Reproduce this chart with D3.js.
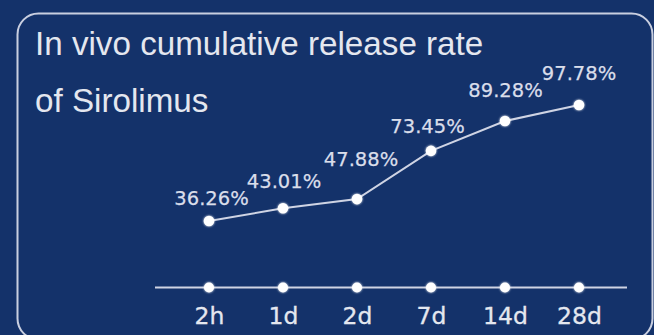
<!DOCTYPE html>
<html>
<head>
<meta charset="utf-8">
<script src="https://cdn.jsdelivr.net/npm/d3@7/dist/d3.min.js"></script>
<style>
  html, body { margin: 0; padding: 0; background: #14326a; }
  svg { display: block; }
</style>
</head>
<body>
<svg id="chart" width="654" height="335"></svg>
<script>
// Sampling time points and cumulative release (%) of Sirolimus
const timePoints = ["2h", "1d", "2d", "7d", "14d", "28d"];
const releaseRate = [36.26, 43.01, 47.88, 73.45, 89.28, 97.78];
const titleLines = ["In vivo cumulative release rate", "of Sirolimus"];

// Per-label nudges (px) so the value labels sit clear of the line
const labelNudgeX = [2.5, 1, 4, -3.5, 0.5, 0];
const labelNudgeY = [-16, -20, -33, -18, -24, -25];

const W = 654, H = 335;
const svg = d3.select("#chart");
const ink = "#e4e7ef";
const lineInk = "#cfd4e4";

svg.append("rect").attr("width", W).attr("height", H).attr("fill", "#14326a");

// Rounded panel frame
svg.append("rect")
  .attr("x", 17.5).attr("y", 13.5)
  .attr("width", 635).attr("height", 326)
  .attr("rx", 21).attr("ry", 21)
  .attr("fill", "none")
  .attr("stroke", "#c9cfe0")
  .attr("stroke-width", 2);

// Title
svg.append("g").selectAll("text")
  .data(titleLines)
  .join("text")
  .attr("x", 35)
  .attr("y", (d, i) => 55 + i * 57)
  .attr("fill", ink)
  .attr("font-family", "'Liberation Sans', Arial, sans-serif")
  .attr("font-size", 33.2)
  .text(d => d);

// Scales
const x = d3.scalePoint().domain(timePoints).range([209, 579]);
const y = d3.scaleLinear().domain([0, 100]).range([289.4, 100.8]);
const axisY = 287.5;

// Soft glow for the dots
const defs = svg.append("defs");
const glow = defs.append("filter").attr("id", "glow")
  .attr("x", "-50%").attr("y", "-50%").attr("width", "200%").attr("height", "200%");
glow.append("feGaussianBlur").attr("in", "SourceGraphic").attr("stdDeviation", 1.2).attr("result", "b");
const merge = glow.append("feMerge");
merge.append("feMergeNode").attr("in", "b");
merge.append("feMergeNode").attr("in", "SourceGraphic");

// X axis: a plain line with a dot at each time point
const axis = d3.axisBottom(x).tickSize(0).tickPadding(0);
const gAxis = svg.append("g").attr("transform", `translate(0,${axisY})`).call(axis);
gAxis.select(".domain").remove();
gAxis.selectAll(".tick text")
  .attr("y", 36)
  .attr("dy", 0)
  .attr("fill", ink)
  .attr("font-family", "'DejaVu Sans', sans-serif")
  .attr("font-size", 23.5)
  .attr("stroke", ink)
  .attr("stroke-width", 0.3);

svg.append("line")
  .attr("x1", 155).attr("x2", 627)
  .attr("y1", axisY).attr("y2", axisY)
  .attr("stroke", lineInk).attr("stroke-width", 2.2);

svg.append("g").selectAll("circle")
  .data(timePoints)
  .join("circle")
  .attr("cx", d => x(d))
  .attr("cy", axisY)
  .attr("r", 5)
  .attr("fill", "#ffffff")
  .attr("filter", "url(#glow)");

// Release curve
const series = timePoints.map((t, i) => ({ t, v: releaseRate[i], i }));
svg.append("path")
  .datum(series)
  .attr("fill", "none")
  .attr("stroke", lineInk)
  .attr("stroke-width", 2)
  .attr("d", d3.line().x(d => x(d.t)).y(d => y(d.v)));

svg.append("g").selectAll("circle")
  .data(series)
  .join("circle")
  .attr("cx", d => x(d.t))
  .attr("cy", d => y(d.v))
  .attr("r", 5.3)
  .attr("fill", "#ffffff")
  .attr("filter", "url(#glow)");

// Value labels
svg.append("g").selectAll("text")
  .data(series)
  .join("text")
  .attr("x", d => x(d.t) + labelNudgeX[d.i])
  .attr("y", d => y(d.v) + labelNudgeY[d.i])
  .attr("text-anchor", "middle")
  .attr("fill", "#dadeea")
  .attr("font-family", "'DejaVu Sans', sans-serif")
  .attr("font-size", 19.5)
  .attr("stroke", "#dadeea")
  .attr("stroke-width", 0.25)
  .text(d => d.v.toFixed(2) + "%");
</script>
</body>
</html>
